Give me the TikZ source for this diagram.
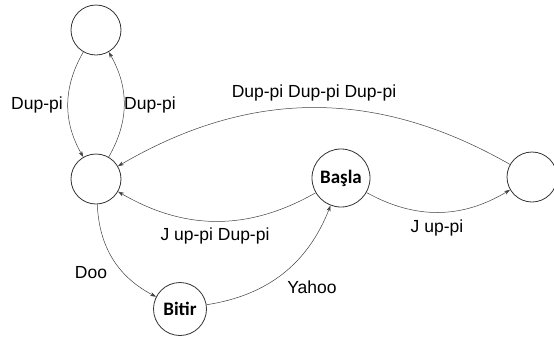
\documentclass[tikz,border=0pt]{standalone}
\usepackage{fontspec}
\setmainfont{Liberation Sans}
\newfontfamily\statefont{Carlito}
\usetikzlibrary{arrows.meta}

\tikzset{
  state/.style={circle, draw=black!80, line width=0.8pt, minimum size=50pt, inner sep=2pt,
    font=\statefont\bfseries\fontsize{19}{19}\selectfont},
  edge/.style={draw=black!75, line width=0.5pt, -{Stealth[length=6pt,width=4pt]}},
  lbl/.style={anchor=base, inner sep=0pt, font=\fontsize{17.5}{17.5}\selectfont}
}

\begin{document}
\begin{tikzpicture}[x=1pt, y=-1pt, bend angle=30]
        \useasboundingbox (0, 0) rectangle (554, 338);

        % states
        \node [state] (top) at (96, 30) {};
        \node [state] (left) at (96, 179) {};
        \node [state, minimum size=58pt] (basla) at (341, 178) {Başla};
        \node [state] (right) at (532, 177) {};
        \node [state, minimum size=53pt] (bitir) at (180, 309) {Bitir};

        % transitions
        \draw [edge] (top) to [bend right] (left);
        \draw [edge] (left) to [bend right] (top);
        \draw [edge] (right) to [bend right] (left);
        \draw [edge] (basla) to [bend left] (left);
        \draw [edge] (basla) to [bend right] (right);
        \draw [edge] (left) to [bend right] (bitir);
        \draw [edge] (bitir) to [bend right] (basla);

        % labels
        \node [lbl] (l1) at (37, 109) {Dup-pi};
        \node [lbl] (l2) at (150, 109) {Dup-pi};
        \node [lbl] (l3) at (314, 97) {Dup-pi Dup-pi Dup-pi};
        \node [lbl] (l4) at (215, 240) {J up-pi Dup-pi};
        \node [lbl] (l5) at (437, 232) {J up-pi};
        \node [lbl] (l6) at (91, 278) {Doo};
        \node [lbl] (l7) at (312, 293) {Yahoo};
\end{tikzpicture}
\end{document}
